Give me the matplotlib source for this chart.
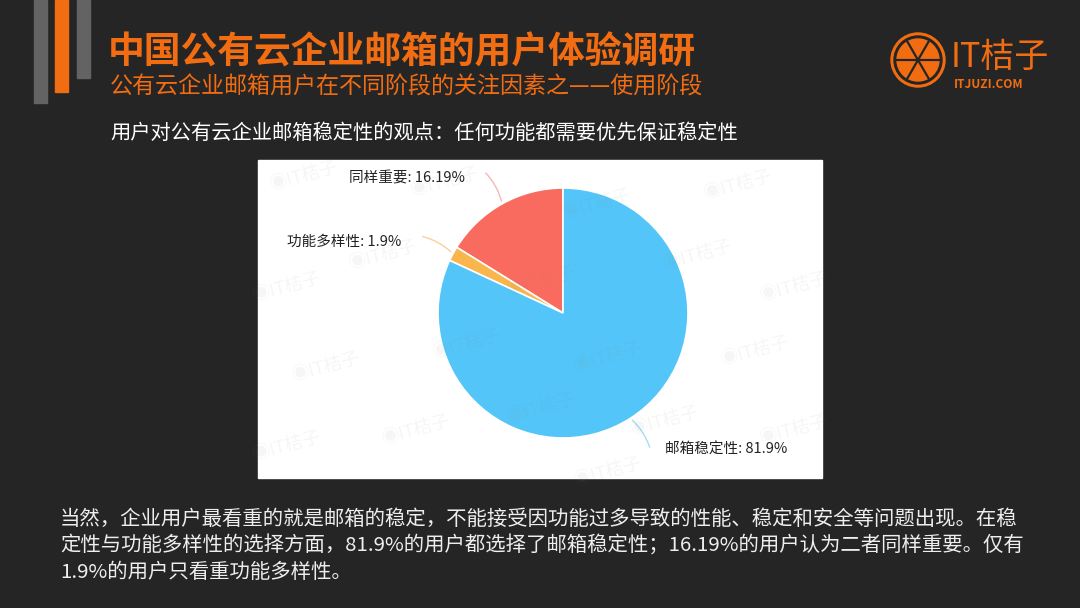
import numpy as np
import matplotlib
matplotlib.use("Agg")
import matplotlib.pyplot as plt
from matplotlib.patches import Rectangle, Circle

plt.rcParams['font.family'] = ['Noto Sans CJK SC', 'DejaVu Sans']

# ---- data ----
categories = ["同样重要", "功能多样性", "邮箱稳定性"]
values = [16.19, 1.9, 81.9]
value_labels = ["16.19%", "1.9%", "81.9%"]
colors = ["#f96b5f", "#f8b64c", "#53c5f8"]
leader_colors = ["#f4b8b0", "#f7d29a", "#a9dcf4"]

title = "中国公有云企业邮箱的用户体验调研"
subtitle = "公有云企业邮箱用户在不同阶段的关注因素之——使用阶段"
chart_heading = "用户对公有云企业邮箱稳定性的观点：任何功能都需要优先保证稳定性"
paragraph = [
    "当然，企业用户最看重的就是邮箱的稳定，不能接受因功能过多导致的性能、稳定和安全等问题出现。在稳",
    "定性与功能多样性的选择方面，81.9%的用户都选择了邮箱稳定性；16.19%的用户认为二者同样重要。仅有",
    "1.9%的用户只看重功能多样性。",
]

BG = "#252525"
ORANGE = "#f26d12"

W, H = 1080, 608
fig = plt.figure(figsize=(10.8, 6.08), dpi=100, facecolor=BG)

# background axes in pixel coordinates
bg = fig.add_axes([0, 0, 1, 1])
bg.set_xlim(0, W)
bg.set_ylim(H, 0)
bg.axis("off")
bg.add_patch(Rectangle((0, 0), W, H, color=BG, zorder=0))

# left decorative bars
bg.add_patch(Rectangle((34, 0), 13, 103, color="#636363", zorder=1))
bg.add_patch(Rectangle((55, 0), 13, 92, color=ORANGE, zorder=1))
bg.add_patch(Rectangle((77, 0), 13, 78, color="#636363", zorder=1))

# titles
bg.text(108, 53, title, color=ORANGE, fontsize=26.5, fontweight="bold",
        va="center", ha="left", zorder=3)
bg.text(110, 87, subtitle, color=ORANGE, fontsize=16.6, va="center", ha="left", zorder=3)
bg.text(110, 133, chart_heading, color="white", fontsize=14.6, va="center", ha="left", zorder=3)

# logo
cx, cy, r = 918, 60, 27
bg.add_patch(Circle((cx, cy), r, color=ORANGE, zorder=3))
bg.add_patch(Circle((cx, cy), r - 3, color=BG, zorder=4))
bg.add_patch(Circle((cx, cy), r - 6, color=ORANGE, zorder=5))
for a in np.arange(0, 360, 60):
    t = np.deg2rad(a)
    bg.plot([cx, cx + (r - 6) * np.cos(t)], [cy, cy + (r - 6) * np.sin(t)],
            color=BG, lw=1.6, zorder=6)
bg.text(951, 57, "IT桔子", color=ORANGE, fontsize=24.5, va="center", ha="left", zorder=3)
bg.text(954, 84, "ITJUZI.COM", color=ORANGE, fontsize=8.6, fontweight="bold",
        va="center", ha="left", zorder=3)

# white chart box
bx0, by0, bx1, by1 = 258, 160, 822, 478
bg.add_patch(Rectangle((bx0, by0), bx1 - bx0, by1 - by0, color="white", zorder=1))

# paragraph
for i, line in enumerate(paragraph):
    bg.text(60, 519 + i * 27, line, color="#eeeeee", fontsize=14.7,
            va="center", ha="left", zorder=3)

# ---- pie axes (covering the white box) ----
pcx, pcy, pr = 563, 313, 125
ax = fig.add_axes([bx0 / W, 1 - by1 / H, (bx1 - bx0) / W, (by1 - by0) / H])
ax.patch.set_alpha(0)
wedges, _ = ax.pie(values, colors=colors, startangle=90, counterclock=True,
                   radius=1.0, wedgeprops=dict(edgecolor="white", linewidth=1.2))
ax.set_aspect("auto")
ax.set_xlim(-(pcx - bx0) / pr, (bx1 - pcx) / pr)
ax.set_ylim(-(by1 - pcy) / pr, (pcy - by0) / pr)
ax.axis("off")

label_dx = [0.15, 0.15, 0.12]
label_dy = [-0.06, -0.05, 0.0]
for w, cat, lab, lc, dx, dy in zip(wedges, categories, value_labels, leader_colors,
                                   label_dx, label_dy):
    mid = np.deg2rad((w.theta1 + w.theta2) / 2)
    x0, y0 = np.cos(mid), np.sin(mid)
    x1, y1 = 1.30 * np.cos(mid), 1.30 * np.sin(mid)
    side = 1 if x1 > 0 else -1
    ax.annotate("", xy=(x0, y0), xytext=(x1, y1),
                arrowprops=dict(arrowstyle="-", color=lc, lw=1.0,
                                connectionstyle="arc3,rad=%s" % (0.15 * side)))
    ax.text(x1 + side * dx, y1 + dy, f"{cat}: {lab}", fontsize=10.5,
            color="#222222", ha="left" if side > 0 else "right", va="center")

# faint watermarks
wm_pos = [(0.08, 0.95), (0.33, 0.93), (0.6, 0.86), (0.85, 0.92), (0.05, 0.6),
          (0.22, 0.7), (0.5, 0.62), (0.78, 0.7), (0.95, 0.6), (0.12, 0.35),
          (0.37, 0.42), (0.62, 0.38), (0.88, 0.4), (0.05, 0.1), (0.28, 0.15),
          (0.5, 0.22), (0.72, 0.18), (0.95, 0.15), (0.62, 0.02)]
for (wx, wy) in wm_pos:
    ax.text(wx, wy, "◉IT桔子", transform=ax.transAxes, fontsize=13,
            color="#888888", alpha=0.08, rotation=15, ha="center", va="center",
            family=['Noto Sans CJK SC', 'DejaVu Sans'])

fig.savefig("out.png", dpi=100, facecolor=BG)
